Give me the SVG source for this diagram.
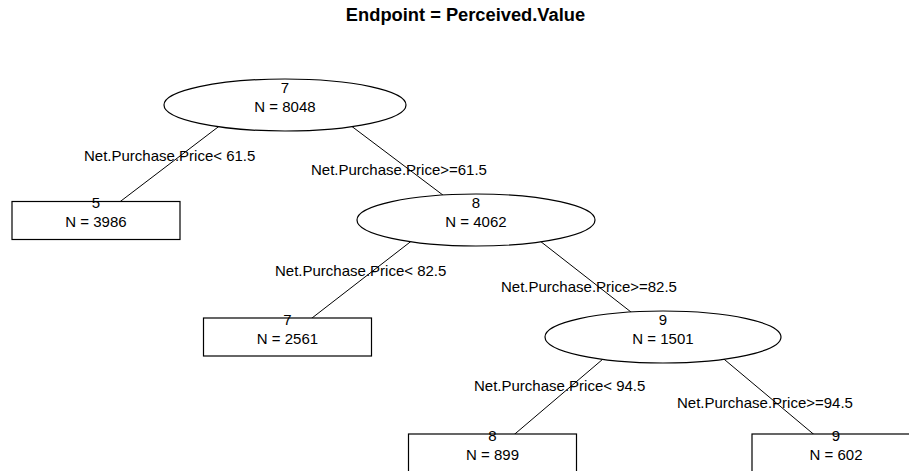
<svg xmlns="http://www.w3.org/2000/svg" width="909" height="471" viewBox="0 0 909 471">
  <style>
    text { font-family: "Liberation Sans", Arial, sans-serif; font-size: 15px; fill: #000; }
    .title { font-weight: bold; font-size: 18.3px; text-anchor: middle; }
    .mid { text-anchor: middle; }
    .shape { fill: #fff; stroke: #000; stroke-width: 1.2; }
    .branch { stroke: #000; stroke-width: 1; fill: none; }
  </style>
  <rect width="909" height="471" fill="#fff"/>
  <text class="title" x="465.5" y="21">Endpoint = Perceived.Value</text>

  <!-- branches: start inside the parent ellipse, end at the child centre, hidden under the shapes -->
  <g id="connectors">
    <line class="branch" x1="273.2" y1="85" x2="96" y2="220"/>
    <line class="branch" x1="296.9" y1="85" x2="476" y2="220"/>
    <line class="branch" x1="464.4" y1="200" x2="287.5" y2="337"/>
    <line class="branch" x1="487.5" y1="200" x2="663" y2="337"/>
    <line class="branch" x1="652.4" y1="317" x2="492.5" y2="453"/>
    <line class="branch" x1="673.7" y1="317" x2="836" y2="453"/>
  </g>

  <!-- split labels -->
  <g id="split-labels">
    <text x="84" y="161">Net.Purchase.Price&lt; 61.5</text>
    <text x="311" y="175">Net.Purchase.Price&gt;=61.5</text>
    <text x="275" y="276">Net.Purchase.Price&lt; 82.5</text>
    <text x="501" y="292">Net.Purchase.Price&gt;=82.5</text>
    <text x="474" y="391">Net.Purchase.Price&lt; 94.5</text>
    <text x="677" y="408">Net.Purchase.Price&gt;=94.5</text>
  </g>

  <g id="node1">
    <ellipse class="shape" cx="285" cy="105" rx="121" ry="26"/>
    <text class="mid" x="285" y="93">7</text>
    <text class="mid" x="285" y="112">N = 8048</text>
  </g>

  <g id="node2">
    <rect class="shape" x="12" y="201.5" width="168" height="38"/>
    <text class="mid" x="96" y="208">5</text>
    <text class="mid" x="96" y="227">N = 3986</text>
  </g>

  <g id="node3">
    <ellipse class="shape" cx="476" cy="220" rx="119" ry="26"/>
    <text class="mid" x="476" y="208">8</text>
    <text class="mid" x="476" y="227">N = 4062</text>
  </g>

  <g id="node6">
    <rect class="shape" x="203.5" y="318" width="168" height="38"/>
    <text class="mid" x="287.5" y="325">7</text>
    <text class="mid" x="287.5" y="344">N = 2561</text>
  </g>

  <g id="node7">
    <ellipse class="shape" cx="663" cy="337" rx="118" ry="26"/>
    <text class="mid" x="663" y="325">9</text>
    <text class="mid" x="663" y="344">N = 1501</text>
  </g>

  <g id="node14">
    <rect class="shape" x="408.5" y="434" width="168" height="38"/>
    <text class="mid" x="492.5" y="441">8</text>
    <text class="mid" x="492.5" y="460">N = 899</text>
  </g>

  <g id="node15">
    <rect class="shape" x="752" y="434" width="168" height="38"/>
    <text class="mid" x="836" y="441">9</text>
    <text class="mid" x="836" y="460">N = 602</text>
  </g>
</svg>
